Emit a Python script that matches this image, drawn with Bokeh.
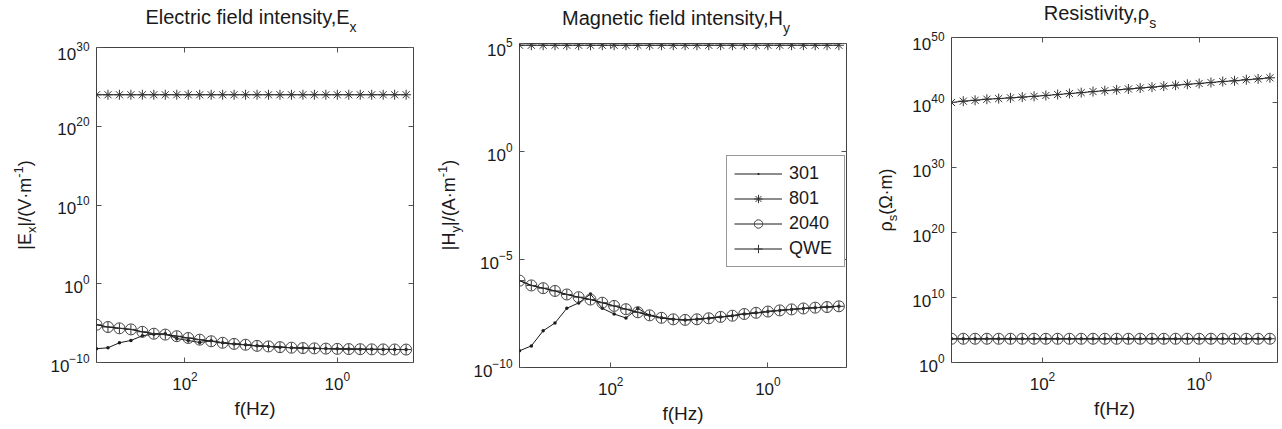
import math
from bokeh.plotting import figure
from bokeh.models import (Range1d, FixedTicker, LogAxis, Legend, LegendItem, Div,
                          CustomJSTickFormatter, ColumnDataSource)
from bokeh.layouts import row, column
from bokeh.embed import file_html
from bokeh.resources import INLINE

# ---------------- data ----------------
freq = [1448.2, 1024, 724.08, 512, 362.04, 256, 181.02, 128, 90.51, 64,
        45.25, 32, 22.63, 16, 11.31, 8, 5.657, 4, 2.828, 2,
        1.414, 1, 0.7071, 0.5, 0.3536, 0.25, 0.1768, 0.125]

series_names = ["301", "801", "2040", "QWE"]

# Electric field |Ex|
ex_301 = [5.6e-9, 7.4e-9, 3.2e-8, 6.3e-8, 2.5e-7, 4.0e-7, 4.5e-7, 1.1e-7, 6.3e-8, 3.5e-8,
          5.6e-8, 3.2e-8, 2.3e-8, 1.8e-8, 1.3e-8, 1.1e-8, 8.9e-9, 7.6e-9, 6.8e-9, 6.2e-9,
          5.8e-9, 5.4e-9, 5.1e-9, 4.9e-9, 4.7e-9, 4.6e-9, 4.5e-9, 4.4e-9]
ex_801 = [1.0e24, 1.0e24, 1.0e24, 1.0e24, 1.0e24, 1.0e24, 1.0e24, 1.0e24, 1.0e24, 1.0e24,
          1.0e24, 1.0e24, 1.0e24, 1.0e24, 1.0e24, 1.0e24, 1.0e24, 1.0e24, 1.0e24, 1.0e24,
          1.0e24, 1.0e24, 1.0e24, 1.0e24, 1.0e24, 1.0e24, 1.0e24, 1.0e24]
ex_2040 = [6.3e-6, 3.2e-6, 2.2e-6, 1.6e-6, 7.9e-7, 4.5e-7, 3.5e-7, 2.2e-7, 1.3e-7, 7.9e-8,
           5.0e-8, 3.2e-8, 2.3e-8, 1.8e-8, 1.3e-8, 1.1e-8, 8.9e-9, 7.6e-9, 6.8e-9, 6.2e-9,
           5.8e-9, 5.4e-9, 5.1e-9, 4.9e-9, 4.7e-9, 4.6e-9, 4.5e-9, 4.4e-9]
ex_qwe = [6.3e-6, 3.2e-6, 2.2e-6, 1.6e-6, 7.9e-7, 4.5e-7, 3.5e-7, 2.2e-7, 1.3e-7, 7.9e-8,
          5.0e-8, 3.2e-8, 2.3e-8, 1.8e-8, 1.3e-8, 1.1e-8, 8.9e-9, 7.6e-9, 6.8e-9, 6.2e-9,
          5.8e-9, 5.4e-9, 5.1e-9, 4.9e-9, 4.7e-9, 4.6e-9, 4.5e-9, 4.4e-9]

# Magnetic field |Hy|
hy_301 = [5.9e-10, 1.0e-9, 5.0e-9, 1.15e-8, 5.5e-8, 9.8e-8, 2.5e-7, 5.5e-8, 3.0e-8, 1.95e-8,
          5.5e-8, 2.6e-8, 2.0e-8, 1.7e-8, 1.6e-8, 1.7e-8, 1.9e-8, 2.2e-8, 2.5e-8, 3.0e-8,
          3.4e-8, 3.9e-8, 4.4e-8, 4.9e-8, 5.4e-8, 5.9e-8, 6.3e-8, 6.8e-8]
hy_801 = [8.3e4, 8.3e4, 8.3e4, 8.3e4, 8.3e4, 8.3e4, 8.3e4, 8.3e4, 8.3e4, 8.3e4,
          8.3e4, 8.3e4, 8.3e4, 8.3e4, 8.3e4, 8.3e4, 8.3e4, 8.3e4, 8.3e4, 8.3e4,
          8.3e4, 8.3e4, 8.3e4, 8.3e4, 8.3e4, 8.3e4, 8.3e4, 8.3e4]
hy_2040 = [1.05e-6, 6.3e-7, 4.7e-7, 3.5e-7, 2.4e-7, 1.8e-7, 1.4e-7, 1.0e-7, 7.1e-8, 5.0e-8,
           3.6e-8, 2.6e-8, 2.0e-8, 1.7e-8, 1.6e-8, 1.7e-8, 1.9e-8, 2.2e-8, 2.5e-8, 3.0e-8,
           3.4e-8, 3.9e-8, 4.4e-8, 4.9e-8, 5.4e-8, 5.9e-8, 6.3e-8, 6.8e-8]
hy_qwe = [1.05e-6, 6.3e-7, 4.7e-7, 3.5e-7, 2.4e-7, 1.8e-7, 1.4e-7, 1.0e-7, 7.1e-8, 5.0e-8,
          3.6e-8, 2.6e-8, 2.0e-8, 1.7e-8, 1.6e-8, 1.7e-8, 1.9e-8, 2.2e-8, 2.5e-8, 3.0e-8,
          3.4e-8, 3.9e-8, 4.4e-8, 4.9e-8, 5.4e-8, 5.9e-8, 6.3e-8, 6.8e-8]

# Apparent resistivity rho_s
rho_301 = [4.5e3, 4.5e3, 4.5e3, 4.5e3, 4.5e3, 4.5e3, 4.5e3, 4.5e3, 4.5e3, 4.5e3,
           4.5e3, 4.5e3, 4.5e3, 4.5e3, 4.5e3, 4.5e3, 4.5e3, 4.5e3, 4.5e3, 4.5e3,
           4.5e3, 4.5e3, 4.5e3, 4.5e3, 4.5e3, 4.5e3, 4.5e3, 4.5e3]
rho_801 = [1.0e40, 1.6e40, 2.2e40, 3.2e40, 4.0e40, 5.2e40, 6.8e40, 8.9e40, 1.2e41, 1.7e41,
           2.4e41, 3.3e41, 4.8e41, 6.6e41, 8.9e41, 1.2e42, 1.7e42, 2.3e42, 3.3e42, 4.6e42,
           6.3e42, 8.5e42, 1.2e43, 1.7e43, 2.2e43, 3.2e43, 4.3e43, 6.3e43]
rho_2040 = [4.5e3, 4.5e3, 4.5e3, 4.5e3, 4.5e3, 4.5e3, 4.5e3, 4.5e3, 4.5e3, 4.5e3,
            4.5e3, 4.5e3, 4.5e3, 4.5e3, 4.5e3, 4.5e3, 4.5e3, 4.5e3, 4.5e3, 4.5e3,
            4.5e3, 4.5e3, 4.5e3, 4.5e3, 4.5e3, 4.5e3, 4.5e3, 4.5e3]
rho_qwe = [4.5e3, 4.5e3, 4.5e3, 4.5e3, 4.5e3, 4.5e3, 4.5e3, 4.5e3, 4.5e3, 4.5e3,
           4.5e3, 4.5e3, 4.5e3, 4.5e3, 4.5e3, 4.5e3, 4.5e3, 4.5e3, 4.5e3, 4.5e3,
           4.5e3, 4.5e3, 4.5e3, 4.5e3, 4.5e3, 4.5e3, 4.5e3, 4.5e3]

x_ticks = [1, 100]
ex_ticks = [1e-10, 1e0, 1e10, 1e20, 1e30]
hy_ticks = [1e-10, 1e-5, 1e0, 1e5]
rho_ticks = [1e0, 1e10, 1e20, 1e30, 1e40, 1e50]

# ---------------- styling helpers ----------------
FONT = "Liberation Sans"
INK = "#1a1a1a"
TICK = "#555555"
X_START, X_END = 1448.2, 0.1
TOTAL_H = 429
YLAB_W = 40


def make_fig(width, height, bl, br, bt, bb, yr, yticks):
    p = figure(width=width, height=height, x_axis_type="log", y_axis_type="log",
               x_range=Range1d(X_START, X_END), y_range=Range1d(*yr),
               output_backend="svg", toolbar_location=None,
               min_border_left=bl, min_border_right=br, min_border_top=bt, min_border_bottom=bb,
               background_fill_color="white", border_fill_color="white")
    p.grid.visible = False
    p.outline_line_color = "#444444"
    p.outline_line_width = 1
    p.xaxis.ticker = FixedTicker(ticks=x_ticks)
    p.yaxis.ticker = FixedTicker(ticks=yticks)
    for ax in (p.xaxis[0], p.yaxis[0]):
        ax.axis_line_color = None
        ax.major_tick_in = 5
        ax.major_tick_out = 0
        ax.minor_tick_in = 0
        ax.minor_tick_out = 0
        ax.major_tick_line_color = TICK
        ax.major_label_text_font = FONT
        ax.major_label_text_font_size = "17px"
        ax.major_label_text_color = INK
    p.yaxis.major_label_standoff = 7
    p.xaxis.major_label_standoff = 9
    p.xaxis.axis_label = "f(Hz)"
    p.xaxis.axis_label_text_font = FONT
    p.xaxis.axis_label_text_font_size = "19px"
    p.xaxis.axis_label_text_font_style = "normal"
    p.xaxis.axis_label_text_color = INK
    p.xaxis.axis_label_standoff = 5
    # mirrored ticks (box on)
    blank = CustomJSTickFormatter(code="return ''")
    ra = LogAxis(ticker=FixedTicker(ticks=yticks), formatter=blank, major_label_standoff=0,
                 major_tick_in=5, major_tick_out=0, minor_tick_in=0, minor_tick_out=0,
                 axis_line_color=None, major_tick_line_color=TICK)
    ta = LogAxis(ticker=FixedTicker(ticks=x_ticks), formatter=blank, major_label_standoff=0,
                 major_tick_in=5, major_tick_out=0, minor_tick_in=0, minor_tick_out=0,
                 axis_line_color=None, major_tick_line_color=TICK)
    p.add_layout(ra, "right")
    p.add_layout(ta, "above")
    return p


def add_series(p, values):
    out = []
    specs = [("dot", 14, INK, INK),
             ("asterisk", 10, "#333333", None),
             ("circle", 11, "#444444", None),
             ("cross", 10, "#333333", None)]
    for v, (mk, sz, lc, fc) in zip(values, specs):
        src = ColumnDataSource(dict(f=freq, v=v))
        l = p.line("f", "v", source=src, line_color=INK, line_width=1)
        s = p.scatter("f", "v", source=src, marker=mk, size=sz, line_color=lc,
                      fill_color=fc, line_width=1)
        out.append((l, s))
    return out


def title_div(width, height, html, center_x, top):
    inner = (f'<div style="position:relative;width:{width}px;height:{height}px;">'
             f'<div style="position:absolute;left:{center_x}px;top:{top}px;'
             f'transform:translateX(-50%);white-space:nowrap;font-family:\'{FONT}\';'
             f'font-size:20px;line-height:20px;color:{INK};">{html}</div></div>')
    return Div(text=inner, width=width, height=height, margin=(0, 0, 0, 0))


def ylab_div(height, html, cx, cy):
    inner = (f'<div style="position:relative;width:{YLAB_W}px;height:{height}px;">'
             f'<div style="position:absolute;left:{cx}px;top:{cy}px;'
             f'transform:translate(-50%,-50%) rotate(-90deg);white-space:nowrap;'
             f'font-family:\'{FONT}\';font-size:18px;line-height:18px;color:{INK};">{html}</div></div>')
    return Div(text=inner, width=YLAB_W, height=height, margin=(0, 0, 0, 0))


SUB_T = '<span style="font-size:14px;position:relative;top:8px;">{}</span>'
SUB_Y = '<span style="font-size:13px;position:relative;top:5px;">{}</span>'
SUP_Y = '<span style="font-size:13px;position:relative;top:-8px;">{}</span>'


def panel(width, title_h, bl, br, frame_w, frame_h, yr, yticks, values,
          title_html, title_cx, title_top, ylab_html, ylab_cx, legend=False):
    fig_h = TOTAL_H - title_h
    bt = 6
    bb = fig_h - bt - frame_h
    fig_w = width - YLAB_W
    p = make_fig(fig_w, fig_h, bl - YLAB_W, br, bt, bb, yr, yticks)
    rends = add_series(p, values)
    if legend:
        lg = Legend(items=[LegendItem(label=n, renderers=[l, s])
                           for n, (l, s) in zip(series_names, rends)],
                    location=(207, 100), glyph_width=48, glyph_height=21, label_height=21,
                    label_width=48, label_standoff=7, padding=7, spacing=4, margin=0,
                    border_line_color="#333333", border_line_width=1,
                    background_fill_color="white", background_fill_alpha=1.0,
                    label_text_font=FONT, label_text_font_size="18px", label_text_color=INK)
        p.add_layout(lg)
    frame_cy = bt + frame_h / 2
    t = title_div(width, title_h, title_html, title_cx, title_top)
    y = ylab_div(fig_h, ylab_html, ylab_cx, frame_cy)
    return column(t, row(y, p, spacing=0), spacing=0)


col1 = panel(430, 41, 96, 17, 317, 315, (1e-10, 1e30), ex_ticks,
             [ex_301, ex_801, ex_2040, ex_qwe],
             "Electric field intensity,E" + SUB_T.format("x"), 251, 7,
             "|E" + SUB_Y.format("x") + "|/(V\u00b7m" + SUP_Y.format("-1") + ")", 26)

col2 = panel(430, 37, 89, 14, 327, 324, (1e-10, 1e5), hy_ticks,
             [hy_301, hy_801, hy_2040, hy_qwe],
             "Magnetic field intensity,H" + SUB_T.format("y"), 246, 8,
             "|H" + SUB_Y.format("y") + "|/(A\u00b7m" + SUP_Y.format("-1") + ")", 20,
             legend=True)

col3 = panel(422, 31, 91, 5, 326, 325, (1e0, 1e50), rho_ticks,
             [rho_301, rho_801, rho_2040, rho_qwe],
             "Resistivity,\u03c1" + SUB_T.format("s"), 240, 3,
             "\u03c1" + SUB_Y.format("s") + "(\u03a9\u00b7m)", 27)

layout = row(col1, col2, col3, spacing=0)
open("out.html", "w").write(file_html(layout, INLINE))
